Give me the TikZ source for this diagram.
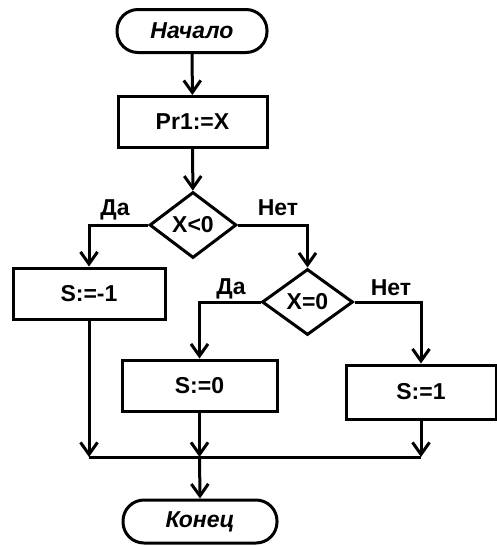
\documentclass[tikz,border=0pt]{standalone}
\usepackage{fontspec}
\setmainfont{Liberation Sans}
\usetikzlibrary{shapes.geometric,arrows.meta}
\begin{document}
\begin{tikzpicture}[x=0.5pt,y=-0.5pt,
  line width=1.5pt,
  every node/.style={font=\bfseries\fontsize{11.5}{13}\selectfont},
  term/.style={draw, rectangle, rounded corners=10.5pt, minimum width=75pt,
    minimum height=21.5pt, inner sep=0pt,
    font=\bfseries\itshape\fontsize{11.5}{13}\selectfont},
  proc/.style={draw, rectangle, minimum width=76pt, minimum height=25.5pt, inner sep=0pt},
  decide/.style={draw, diamond, aspect=1.3, inner sep=0pt, minimum height=33pt},
  flow/.style={-{Straight Barb[length=6pt,width=8.5pt]}},
  lbl/.style={inner sep=0pt}
]
\useasboundingbox (0,0) rectangle (497,546);

% blocks
\node[term] (start) at (192,31) {Начало};
\node[proc, minimum width=74.5pt] (pr) at (192.5,122) {Pr1:=X};
\node[decide, minimum width=43.5pt] (d1) at (193,225) {X<0};
\node[proc] (s1) at (89,293.5) {S:=-1};
\node[decide, minimum width=45.5pt] (d2) at (307.5,302) {X=0};
\node[proc, minimum width=77.5pt] (s0) at (199.5,385.5) {S:=0};
\node[proc, minimum width=75pt, minimum height=27pt] (s2) at (421,392) {S:=1};
\node[term, minimum width=77pt] (end) at (200,521.5) {Конец};

% merge points on the collecting line
\coordinate (m1) at (s1.south |- 0,457);
\coordinate (m2) at (s0.south |- 0,457);
\coordinate (m3) at (s2.south |- 0,457);

% connectors
\draw[flow] (start) -- (pr);
\draw[flow] (pr) -- (d1);
\draw[flow] (d1.west) -| (s1.north);
\draw[flow] (d1.east) -| (d2.north);
\draw[flow] (d2.west) -| (s0.north);
\draw[flow] (d2.east) -| (s2.north);
\draw[flow] (s1.south) -- (m1);
\draw[flow] (s0.south) -- (m2);
\draw[flow] (s2.south) -- (m3);
\draw (m1) -- (m3);
\draw[flow] (m2) -- (end.north);

% branch labels
\node[lbl] (l1) at (115,210) {Да};
\node[lbl] (l2) at (278,208) {Нет};
\node[lbl] (l3) at (231,289) {Да};
\node[lbl] (l4) at (391,288) {Нет};
\end{tikzpicture}
\end{document}
